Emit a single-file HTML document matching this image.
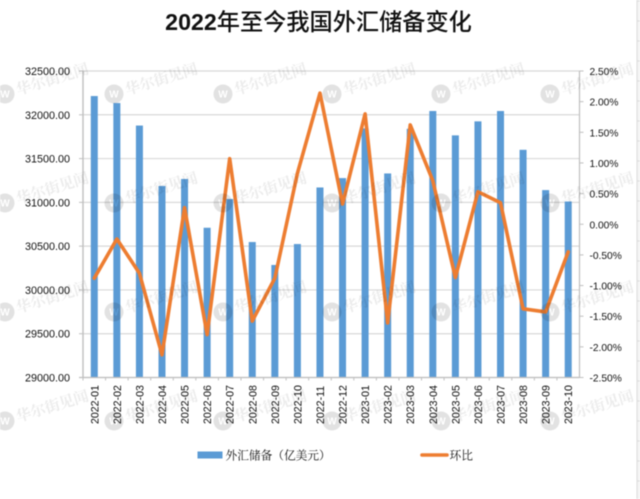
<!DOCTYPE html>
<html lang="zh">
<head>
<meta charset="utf-8">
<title>2022年至今我国外汇储备变化</title>
<style>
  html, body { margin: 0; padding: 0; background: #fff; width: 640px; height: 499px; overflow: hidden; }
  body { position: relative; }
  svg { display: block; position: absolute; left: 0; top: 0; overflow: hidden; }
  #chart { filter: blur(0.5px); }
  #watermarks { mix-blend-mode: multiply; }
  text { font-family: "Liberation Sans", "Noto Sans CJK SC", sans-serif; fill: #111; }
</style>
</head>
<body>
<svg id="chart" width="640" height="499" viewBox="0 0 640 499" xmlns="http://www.w3.org/2000/svg">
  <rect width="640" height="499" fill="#fff"/>
  <g id="page-edge"></g>
  <g id="grid"></g>
  <g id="bars"></g>
  <g id="axes"></g>
  <g id="series-line"></g>
  <g id="watermarks"></g>
  <text x="318.5" y="30" text-anchor="middle" font-size="23.2" style="font-family:'Liberation Sans','Noto Sans CJK SC',sans-serif" fill="#000"><tspan font-weight="700">2022</tspan><tspan font-weight="500">年至今我国外汇储备变化</tspan></text>
  <g>
    <rect x="197.5" y="451.5" width="25" height="7" fill="#5b9bd5"/>
    <text x="225.5" y="459.5" font-size="11.7" style="font-family:'Noto Serif CJK SC',serif" fill="#222">外汇储备（亿美元）</text>
    <line x1="422" y1="455" x2="447" y2="455" stroke="#ed7d31" stroke-width="3.6" stroke-linecap="round"/>
    <text x="449.5" y="459.5" font-size="11.7" style="font-family:'Noto Serif CJK SC',serif" fill="#222">环比</text>
  </g>
</svg>
<script>
const categories = ["2022-01","2022-02","2022-03","2022-04","2022-05","2022-06","2022-07","2022-08","2022-09","2022-10","2022-11","2022-12","2023-01","2023-02","2023-03","2023-04","2023-05","2023-06","2023-07","2023-08","2023-09","2023-10"];
const reserves = [32214,32134,31877,31187,31267,30710,31038,30547,30285,30524,31170,31277,31845,31330,31840,32043,31765,31925,32043,31600,31140,31010];
const momPercent = [-0.88,-0.24,-0.80,-2.13,0.27,-1.80,1.07,-1.58,-0.88,0.83,2.14,0.33,1.80,-1.61,1.62,0.71,-0.87,0.53,0.35,-1.38,-1.43,-0.45];
const leftTicks = [29000,29500,30000,30500,31000,31500,32000,32500];
const rightTicks = [-2.5,-2,-1.5,-1,-0.5,0,0.5,1,1.5,2,2.5];

const NS = 'http://www.w3.org/2000/svg';
const plot = { left: 83, right: 579.5, top: 71, bottom: 377.5 };
const xBand = (plot.right - plot.left) / categories.length;
function xCenter(i) { return plot.left + xBand * (i + 0.5); }
function yLeft(v) { return plot.bottom - (v - 29000) / 3500 * (plot.bottom - plot.top); }
function yRight(v) { return plot.bottom - (v + 2.5) / 5 * (plot.bottom - plot.top); }
function make(tag, attrs, parent) {
  const el = document.createElementNS(NS, tag);
  for (const k in attrs) el.setAttribute(k, attrs[k]);
  parent.appendChild(el);
  return el;
}
const grid = document.getElementById('grid');
const axes = document.getElementById('axes');
const bars = document.getElementById('bars');
const lineG = document.getElementById('series-line');
const wm = document.getElementById('watermarks');
const edge = document.getElementById('page-edge');

leftTicks.forEach(function (t) {
  const y = yLeft(t);
  const g = make('line', { x1: plot.left, x2: plot.right, y1: y, y2: y, stroke: '#d9d9d9', 'stroke-width': 1.2 }, grid);
  
  
  const tk = make('line', { x1: plot.left - 4, x2: plot.left, y1: y, y2: y, stroke: '#bfbfbf', 'stroke-width': 1 }, axes);
  
  
  const lb = make('text', { x: 70, y: y + 4, 'text-anchor': 'end', 'font-size': 10.8 }, axes);
  lb.textContent = t.toFixed(2);
  
  
});

rightTicks.forEach(function (t) {
  const y = yRight(t);
  const tk = make('line', { x1: plot.right, x2: plot.right + 4, y1: y, y2: y, stroke: '#bfbfbf', 'stroke-width': 1 }, axes);
  
  
  const lb = make('text', { x: 589.5, y: y + 4, 'font-size': 10.2 }, axes);
  lb.textContent = t.toFixed(2) + '%';
  
  
});

const axisLeft = make('line', { x1: plot.left, x2: plot.left, y1: plot.top, y2: plot.bottom, stroke: '#bfbfbf', 'stroke-width': 1.4 }, axes);


const axisRight = make('line', { x1: plot.right, x2: plot.right, y1: plot.top, y2: plot.bottom, stroke: '#bfbfbf', 'stroke-width': 1.2 }, axes);


const axisBottom = make('line', { x1: plot.left - 4, x2: plot.right, y1: plot.bottom, y2: plot.bottom, stroke: '#bfbfbf', 'stroke-width': 1.2 }, axes);



categories.forEach(function (c, i) {
  const cx = xCenter(i);
  const y = yLeft(reserves[i]);
  const b = make('rect', { x: cx - 3.5, y: y, width: 7, height: plot.bottom - y, fill: '#5b9bd5' }, bars);
  
  
  const tk = make('line', { x1: plot.left + xBand * i, x2: plot.left + xBand * i, y1: plot.bottom, y2: plot.bottom + 3, stroke: '#bfbfbf', 'stroke-width': 1 }, axes);
  
  
  const lb = make('text', { transform: 'translate(' + (cx + 4) + ',424) rotate(-90)', 'font-size': 10.6 }, axes);
  lb.textContent = c;
  
  
});

const pts = momPercent.map(function (v, i) { return xCenter(i) + ',' + yRight(v); }).join(' ');
const poly = make('polyline', { points: pts, fill: 'none', stroke: '#ed7d31', 'stroke-width': 3.6, 'stroke-linejoin': 'round', 'stroke-linecap': 'round' }, lineG);



for (let r = 0; r < 4; r++) {
  for (let c = 0; c < 6; c++) {
    const cx = 5 + c * 109;
    const cy = 94 + r * 109;
    const g = make('g', {}, wm);
    
    
    make('circle', { cx: cx, cy: cy, r: 9.5, fill: '#e2e2e2' }, g);
    const w = make('text', { x: cx, y: cy + 3.5, 'text-anchor': 'middle', 'font-size': 10, 'font-weight': 700 }, g);
    w.setAttribute('style', 'fill:#fff');
    w.textContent = 'W';
    const t = make('text', { transform: 'translate(' + (cx + 13) + ',' + (cy + 1) + ') rotate(-17)', 'font-size': 15 }, g);
    t.setAttribute('style', "fill:#ececec;font-family:'Noto Serif CJK SC',serif;font-weight:700");
    t.textContent = '华尔街见闻';
  }
}

const edgeBand = make('rect', { x: 637, y: 0, width: 3, height: 499, fill: '#f4f4f4' }, edge);


const edgeLine = make('line', { x1: 637, x2: 637, y1: 0, y2: 499, stroke: '#dcdcdc', 'stroke-width': 1 }, edge);


for (let y = 1; y < 499; y += 20) {
  const mark = make('line', { x1: 637, x2: 640, y1: y, y2: y, stroke: '#dcdcdc', 'stroke-width': 1 }, edge);
  
  
}
</script>
</body>
</html>
